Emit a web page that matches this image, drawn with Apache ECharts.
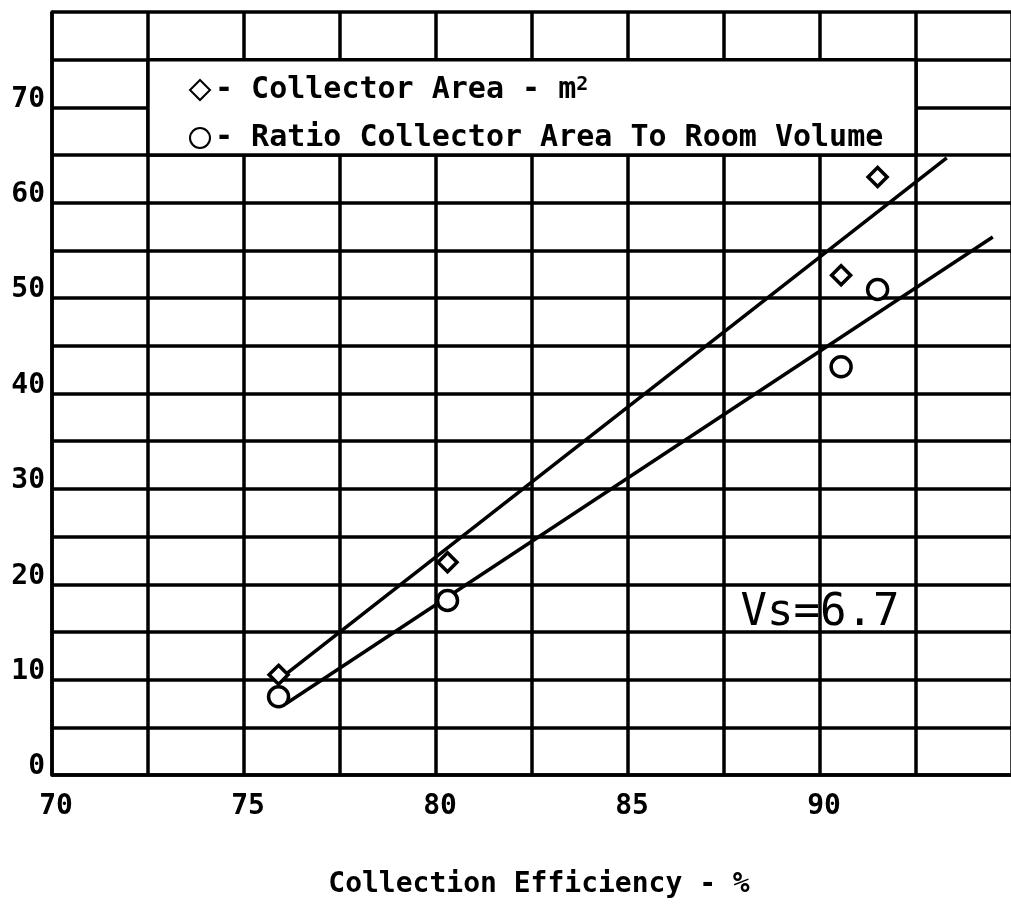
<!DOCTYPE html>
<html>
<head>
<meta charset="utf-8">
<script src="https://cdn.jsdelivr.net/npm/echarts@6/dist/echarts.min.js"></script>
<style>
html, body { margin: 0; padding: 0; background: #fff; }
#chart { width: 1011px; height: 907px; }
</style>
</head>
<body>
<div id="chart"></div>
<script>
// measured points: [collection efficiency %, value]
const collectorArea = [[75.9, 10.5], [80.3, 22.3], [90.55, 52.4], [91.5, 62.7]]
const areaVolumeRatio = [[75.9, 8.2], [80.3, 18.3], [90.55, 42.8], [91.5, 50.9]]
// hand drawn fit lines, end points
const areaFit = [[76.0, 10.3], [93.3, 64.7]]
const ratioFit = [[76.1, 7.5], [94.5, 56.4]]

const xTicks = [70, 75, 80, 85, 90]
const yTicks = [0, 10, 20, 30, 40, 50, 60, 70]

const legendLabels = {
    'Collector Area': '- Collector Area - m{sup|2}',
    'Ratio': '- Ratio Collector Area To Room Volume'
}

const MONO = "'DejaVu Sans Mono', monospace"
const BLACK = '#000'

const chart = echarts.init(document.getElementById('chart'))

chart.setOption({
    animation: false,
    backgroundColor: '#fff',
    // the plot runs off the right edge of the page
    grid: { left: 52, width: 960, top: 12, bottom: 132, outerBoundsMode: 'none' },
    legend: {
        orient: 'vertical',
        left: 184,
        top: 70,
        itemWidth: 20,
        itemHeight: 20,
        itemGap: 18,
        selectedMode: false,
        itemStyle: { opacity: 1 },
        textStyle: {
            fontFamily: MONO,
            fontSize: 30,
            fontWeight: 'bold',
            color: BLACK,
            lineHeight: 30,
            rich: {
                sup: { fontFamily: MONO, fontSize: 20, fontWeight: 'bold', color: BLACK, verticalAlign: 'top', lineHeight: 14 }
            }
        },
        formatter: name => legendLabels[name],
        data: [
            { name: 'Collector Area', icon: 'diamond' },
            { name: 'Ratio', icon: 'circle' }
        ]
    },
    xAxis: {
        type: 'value',
        min: 70,
        max: 95,
        interval: 2.5,
        axisLine: { show: true, lineStyle: { color: BLACK, width: 3.5 } },
        axisTick: { show: false },
        splitLine: { show: true, lineStyle: { color: BLACK, width: 3.5 } },
        axisLabel: {
            margin: 18,
            fontFamily: MONO,
            fontSize: 28,
            fontWeight: 'bold',
            color: BLACK,
            padding: [0, 0, 0, 8],
            formatter: v => xTicks.includes(v) ? String(v) : ''
        },
        name: 'Collection Efficiency - %',
        nameLocation: 'middle',
        nameGap: 96,
        nameTextStyle: { fontFamily: MONO, fontSize: 28, fontWeight: 'bold', color: BLACK, padding: [0, 0, 0, 14] }
    },
    yAxis: {
        type: 'value',
        min: 0,
        max: 80,
        interval: 5,
        axisLine: { show: true, lineStyle: { color: BLACK, width: 3.5 } },
        axisTick: { show: false },
        splitLine: { show: true, lineStyle: { color: BLACK, width: 3.5 } },
        axisLabel: {
            margin: 7,
            fontFamily: MONO,
            fontSize: 28,
            fontWeight: 'bold',
            color: BLACK,
            verticalAlign: 'bottom',
            lineHeight: 16,
            formatter: v => yTicks.includes(v) ? String(v) : ''
        }
    },
    series: [
        {
            name: 'Collector Area',
            type: 'scatter',
            symbol: 'diamond',
            symbolSize: 19,
            z: 5,
            itemStyle: { color: '#fff', borderColor: BLACK, borderWidth: 3.5, opacity: 1 },
            data: collectorArea,
            // white box holding the legend
            markArea: {
                silent: true,
                itemStyle: { color: '#fff', borderColor: BLACK, borderWidth: 3.5, opacity: 1 },
                data: [[{ coord: [72.5, 75] }, { coord: [92.5, 65] }]]
            }
        },
        {
            name: 'Ratio',
            type: 'scatter',
            symbol: 'circle',
            symbolSize: 20,
            z: 5,
            itemStyle: { color: '#fff', borderColor: BLACK, borderWidth: 3.5, opacity: 1 },
            data: areaVolumeRatio
        },
        {
            type: 'line',
            data: areaFit,
            symbol: 'none',
            silent: true,
            z: 3,
            lineStyle: { color: BLACK, width: 3.5 }
        },
        {
            type: 'line',
            data: ratioFit,
            symbol: 'none',
            silent: true,
            z: 3,
            lineStyle: { color: BLACK, width: 3.5 },
            markPoint: {
                symbol: 'circle',
                symbolSize: 0,
                silent: true,
                label: { show: true, formatter: 'Vs=6.7', fontFamily: MONO, fontSize: 44, color: BLACK },
                data: [{ coord: [90, 16.9] }]
            }
        }
    ]
})
</script>
</body>
</html>
